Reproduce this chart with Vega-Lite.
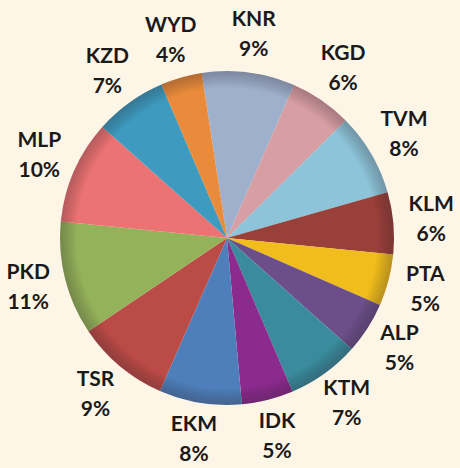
{
  "$schema": "https://vega.github.io/schema/vega-lite/v6.json",
  "autosize": "none",
  "width": 454,
  "height": 468,
  "padding": {"left": 0, "right": 6, "top": 4, "bottom": 0},
  "background": "#fdf5e6",
  "view": {"stroke": null},
  "data": {
    "values": [
      {"idx": 1, "district": "KNR", "pct": 9},
      {"idx": 2, "district": "KGD", "pct": 6},
      {"idx": 3, "district": "TVM", "pct": 8},
      {"idx": 4, "district": "KLM", "pct": 6},
      {"idx": 5, "district": "PTA", "pct": 5},
      {"idx": 6, "district": "ALP", "pct": 5},
      {"idx": 7, "district": "KTM", "pct": 7},
      {"idx": 8, "district": "IDK", "pct": 5},
      {"idx": 9, "district": "EKM", "pct": 8},
      {"idx": 10, "district": "TSR", "pct": 9},
      {"idx": 11, "district": "PKD", "pct": 11},
      {"idx": 12, "district": "MLP", "pct": 10},
      {"idx": 13, "district": "KZD", "pct": 7},
      {"idx": 14, "district": "WYD", "pct": 4}
    ]
  },
  "transform": [{"calculate": "[datum.district, datum.pct + '%']", "as": "label"}],
  "layer": [
    {
      "mark": {"type": "arc", "outerRadius": 167},
      "encoding": {
        "theta": {"field": "pct", "type": "quantitative", "stack": true, "scale": {"range": [-0.152, 6.131]}},
        "order": {"field": "idx", "type": "quantitative"},
        "color": {
          "field": "district",
          "type": "nominal",
          "legend": null,
          "scale": {
            "domain": ["KNR", "KGD", "TVM", "KLM", "PTA", "ALP", "KTM", "IDK", "EKM", "TSR", "PKD", "MLP", "KZD", "WYD"],
            "range": ["#9fb0cc", "#d79ea3", "#8ec4d9", "#9a403b", "#f0bd1c", "#6c4f8a", "#3a8b9d", "#8b2b8d", "#4f7fba", "#bb4b47", "#94b25a", "#ec7373", "#3e9bbf", "#e98b3b"]
          }
        }
      }
    },
    {
      "data": {"values": [{"ring": 1}]},
      "mark": {
        "type": "arc",
        "outerRadius": 167,
        "theta": 0,
        "theta2": 6.2832,
        "color": {
          "gradient": "radial",
          "stops": [
            {"offset": 0, "color": "rgba(0,0,0,0)"},
            {"offset": 0.9, "color": "rgba(0,0,0,0)"},
            {"offset": 1, "color": "rgba(40,30,40,0.28)"}
          ]
        }
      },
      "encoding": {}
    },
    {
      "mark": {"type": "text", "radius": 205, "dy": -15, "font": "Lato", "fontWeight": "bold", "fontSize": 21, "lineHeight": 30, "color": "#1a1a1a"},
      "encoding": {
        "theta": {"field": "pct", "type": "quantitative", "stack": true, "scale": {"range": [-0.152, 6.131]}},
        "order": {"field": "idx", "type": "quantitative"},
        "text": {"field": "label"}
      }
    }
  ]
}
